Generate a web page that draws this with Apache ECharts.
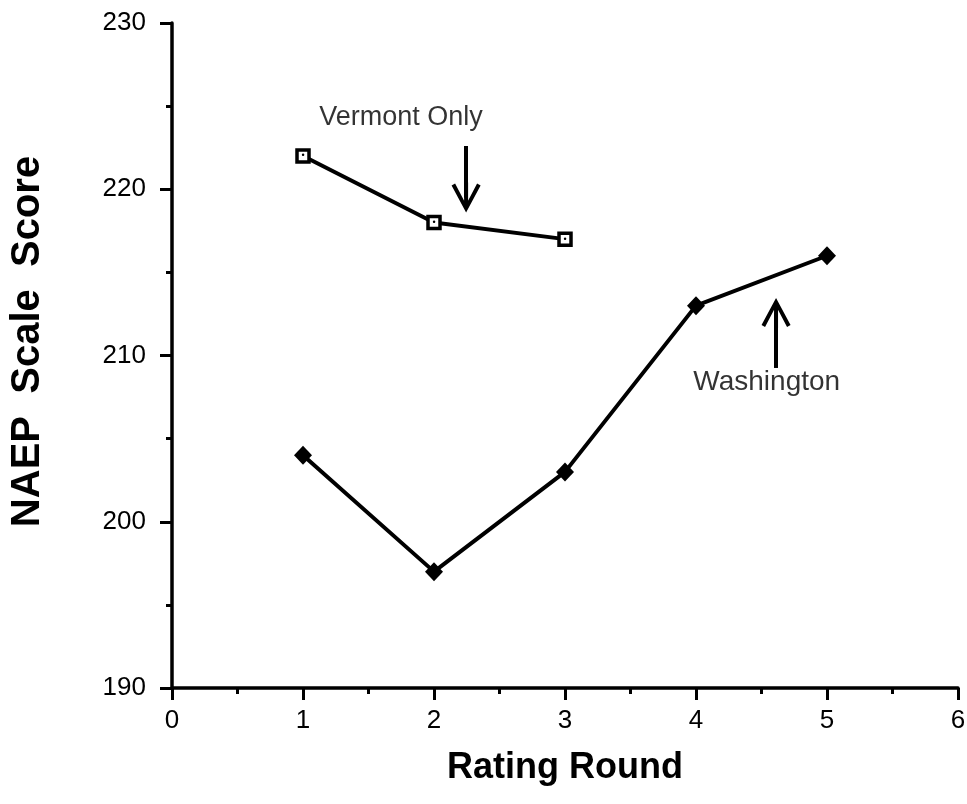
<!DOCTYPE html>
<html><head><meta charset="utf-8">
<script src="https://cdn.jsdelivr.net/npm/echarts@6/dist/echarts.min.js"></script>
<style>html,body{margin:0;padding:0;background:#fff}#c{width:967px;height:804px}</style>
</head><body><div id="c"></div>
<script>
// Data
const rounds = [1, 2, 3, 4, 5];
const vermontRounds = [1, 2, 3];
const vermontScores = [222, 218, 217];
const washingtonScores = [204, 197, 203, 213, 216];
const xMin = 0, xMax = 6, xStep = 1;
const yMin = 190, yMax = 230, yStep = 10;
const annotationTexts = ['Vermont Only', 'Washington'];
const annotationX = [1.748, 4.54];
const annotationY = [224.3, 208.4];
const annotationSizes = [27, 28];
const vermontArrowX = 2.245, vermontArrowY = [222.6, 219.5];
const washingtonArrowX = 4.611, washingtonArrowY = [209.25, 212.56];

const ARROW = 'path://M14.5,0 L29,27 L25.5,29 L14.5,8 L3.5,29 L0,27 Z M12.5,4 L16.5,4 L16.5,30 L12.5,30 Z';
const FONT = "'Liberation Sans', Arial, Helvetica, sans-serif";

const chart = echarts.init(document.getElementById('c'), null, {renderer: 'canvas'});

function arrowLine(x, ys) {
  return [
    {coord: [x, ys[0]], symbol: 'none'},
    {coord: [x, ys[1]], symbol: ARROW, symbolSize: [29, 30]}
  ];
}

const axisLine = {show: true, lineStyle: {color: '#000', width: 3.5}};
const tick = {show: true, length: 12, lineStyle: {color: '#000', width: 3}};
const minor = {show: true, splitNumber: 2, length: 6, lineStyle: {color: '#000', width: 3}};
chart.setOption({
  animation: false,
  backgroundColor: '#fff',
  grid: {left: 172, right: 9, top: 23, bottom: 116, outerBoundsMode: 'none', containLabel: false},
  xAxis: {
    type: 'value', min: xMin, max: xMax, interval: xStep,
    name: 'Rating Round', nameLocation: 'middle', nameGap: 62,
    nameTextStyle: {fontFamily: FONT, fontWeight: 'bold', fontSize: 36, color: '#000'},
    axisLine: axisLine, axisTick: tick, minorTick: minor,
    axisLabel: {margin: 20, fontFamily: FONT, fontSize: 26, color: '#000'},
    splitLine: {show: false}
  },
  yAxis: {
    type: 'value', min: yMin, max: yMax, interval: yStep,
    name: 'NAEP  Scale  Score', nameLocation: 'middle', nameGap: 124,
    nameTextStyle: {fontFamily: FONT, fontWeight: 'bold', fontSize: 40, color: '#000', padding: [0, 0, 0, 28]},
    axisLine: axisLine, axisTick: tick, minorTick: minor,
    axisLabel: {margin: 26, fontFamily: FONT, fontSize: 26, color: '#000'},
    splitLine: {show: false}
  },
  series: [
    {
      name: 'Vermont Only', type: 'line',
      data: vermontRounds.map((r, i) => [r, vermontScores[i]]),
      symbol: 'rect', symbolSize: 12, showAllSymbol: true,
      lineStyle: {color: '#000', width: 4},
      itemStyle: {color: '#fff', borderColor: '#000', borderWidth: 3.5},
      label: {show: true, position: 'inside', formatter: '•', fontSize: 9, color: '#000', textBorderWidth: 0},
      z: 3
    },
    {
      name: 'Washington', type: 'line',
      data: rounds.map((r, i) => [r, washingtonScores[i]]),
      symbol: 'diamond', symbolSize: [18, 19], showAllSymbol: true,
      lineStyle: {color: '#000', width: 4},
      itemStyle: {color: '#000'},
      markLine: {
        silent: true, animation: false,
        symbol: ['none', ARROW], symbolSize: [29, 30],
        lineStyle: {color: '#000', width: 4, type: 'solid'},
        label: {show: false},
        emphasis: {disabled: true},
        data: [arrowLine(vermontArrowX, vermontArrowY), arrowLine(washingtonArrowX, washingtonArrowY)]
      },
      z: 3
    },
    {
      name: 'annotations', type: 'scatter',
      data: annotationTexts.map((t, i) => ({
        name: t, value: [annotationX[i], annotationY[i]],
        label: {fontSize: annotationSizes[i]}
      })),
      symbolSize: 1, itemStyle: {color: 'rgba(0,0,0,0)'},
      label: {show: true, position: 'inside', formatter: '{b}', fontFamily: FONT, color: '#000', textBorderWidth: 0},
      silent: true, z: 4
    }
  ]
});
</script></body></html>
